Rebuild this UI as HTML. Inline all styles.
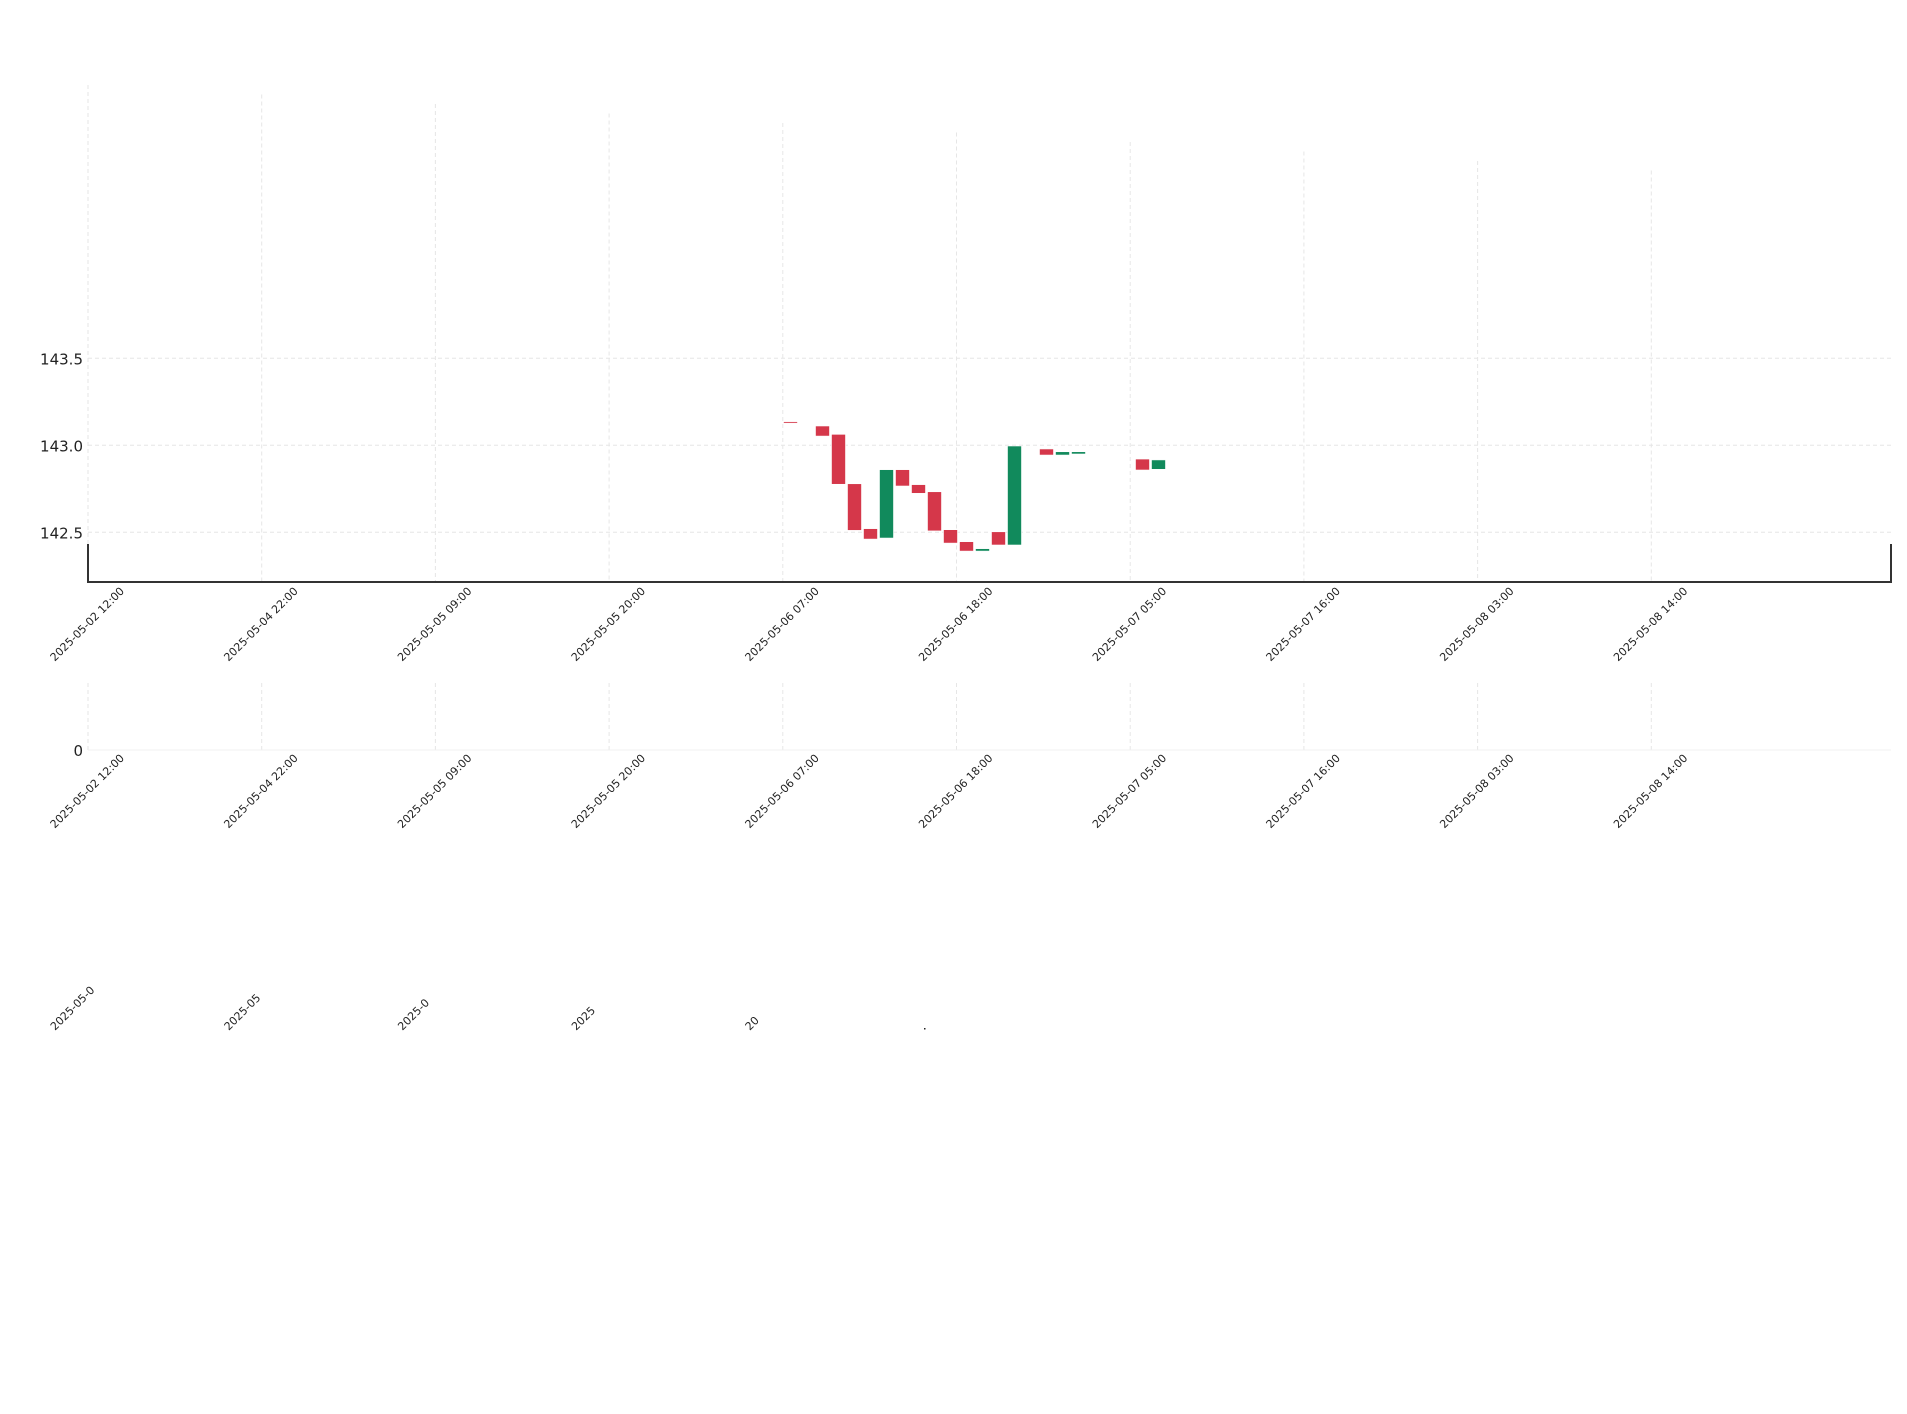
<!DOCTYPE html>
<html><head><meta charset="utf-8"><style>
html,body{margin:0;padding:0;background:#fff;}
svg{display:block;}
text{font-family:"DejaVu Sans","Liberation Sans",sans-serif;}
</style></head><body>
<svg id="chart" width="1907" height="1414" viewBox="0 0 1907 1414" xmlns="http://www.w3.org/2000/svg"></svg>
<script>
const tickLabels = ["2025-05-02 12:00","2025-05-04 22:00","2025-05-05 09:00","2025-05-05 20:00","2025-05-06 07:00","2025-05-06 18:00","2025-05-07 05:00","2025-05-07 16:00","2025-05-08 03:00","2025-05-08 14:00"];
const clippedLabels = ["2025-05-0","2025-05","2025-0","2025","20"];
const priceTicks = [142.5, 143.0, 143.5];
const volumeTicks = [0];
// hours after 2025-05-06 07:00
const candleHours = [0,2,3,4,5,6,7,8,9,10,11,12,13,14,16,17,18,22,23];
const opens  = [143.136,143.111,143.063,142.779,142.521,142.467,142.860,142.774,142.733,142.515,142.446,142.392,142.503,142.427,142.979,142.944,142.950,142.921,142.862];
const closes = [143.128,143.053,142.776,142.511,142.461,142.860,142.766,142.724,142.508,142.438,142.392,142.406,142.427,142.996,142.944,142.963,142.963,142.858,142.916];

const svg = document.getElementById('chart');
const NS = 'http://www.w3.org/2000/svg';
function mk(tag, attrs, parent){const e=document.createElementNS(NS,tag);for(const k in attrs)e.setAttribute(k,attrs[k]);(parent||svg).appendChild(e);return e;}

const X0=88, TICK_PX=173.7, LEFT=88, RIGHT=1891, HOUR_PX=16;
function xTick(i){return X0+i*TICK_PX;}
function xHour(h){return 783.5+h*HOUR_PX;}
function yPrice(p){return 445.3-(p-143.0)*174;}

tickLabels.forEach((t,i)=>{
  const l=mk('line',{x1:xTick(i),x2:xTick(i),y1:85+i*9.5,y2:582,stroke:'#e6e6e6','stroke-width':1,'stroke-dasharray':'4,3'});
  
  
});
priceTicks.forEach(p=>{
  const l=mk('line',{x1:LEFT,x2:RIGHT,y1:yPrice(p),y2:yPrice(p),stroke:'#e6e6e6','stroke-width':1,'stroke-dasharray':'4,3'});
  
  
  const t=mk('text',{x:83,y:yPrice(p)+6,'text-anchor':'end','font-size':15,fill:'#222'});
  t.textContent=p.toFixed(1);
  
  
});
const sp=mk('path',{d:`M${LEFT},544 L${LEFT},582 L${RIGHT},582 L${RIGHT},544`,fill:'none',stroke:'#333','stroke-width':2});



candleHours.forEach((h,i)=>{
  const o=opens[i], c=closes[i];
  const up=c>=o;
  const top=yPrice(Math.max(o,c)), bot=yPrice(Math.min(o,c));
  const r=mk('rect',{x:xHour(h),y:top,width:14,height:Math.max(1.5,bot-top),fill:up?'#118a5c':'#d5374a',stroke:'#fff','stroke-width':0.6});
  
  
});

function label(txt,x,cy,name){
  const t=mk('text',{x:x,y:cy+4,'text-anchor':'middle','font-size':11,fill:'#222',transform:`rotate(-45 ${x} ${cy})`});
  t.textContent=txt;
  
  
  return t;
}
tickLabels.forEach((t,i)=>label(t,xTick(i)-1,624,'x-tick-label'));

tickLabels.forEach((t,i)=>{
  const l=mk('line',{x1:xTick(i),x2:xTick(i),y1:683,y2:750,stroke:'#e6e6e6','stroke-width':1,'stroke-dasharray':'4,3'});
  
  
});
volumeTicks.forEach(v=>{
  const l=mk('line',{x1:LEFT,x2:RIGHT,y1:750,y2:750,stroke:'#f0f0f0','stroke-width':1});
  
  
  const t=mk('text',{x:83,y:756,'text-anchor':'end','font-size':15,fill:'#222'});
  t.textContent=String(v);
  
  
});
tickLabels.forEach((t,i)=>label(t,xTick(i)-1,791,'volume-x-tick-label'));

clippedLabels.forEach((t,i)=>{
  const x0=xTick(i)-33, y0=1031;
  const e=mk('text',{x:x0,y:y0,'text-anchor':'start','font-size':11,fill:'#222',transform:`rotate(-45 ${x0} ${y0})`});
  e.textContent=t;
  
  
});
const dot=mk('rect',{x:924,y:1028,width:1.5,height:1.5,fill:'#222'});


</script>
</body></html>
